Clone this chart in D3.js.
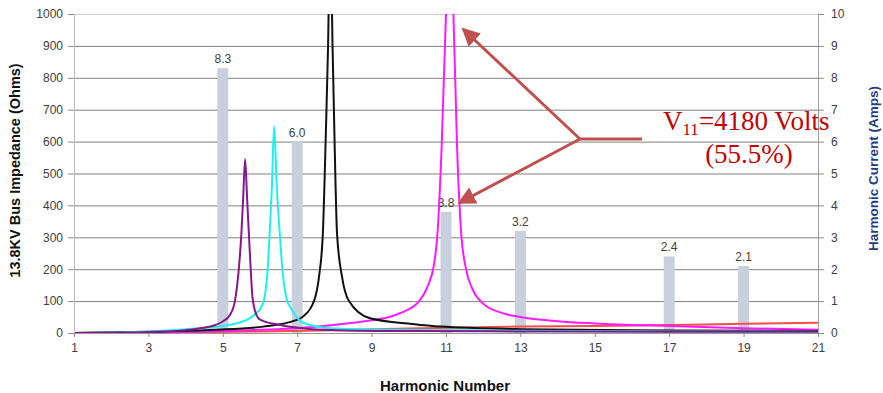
<!DOCTYPE html>
<html>
<head>
<meta charset="utf-8">
<script src="https://cdn.jsdelivr.net/npm/d3@7"></script>
<style>
  body { margin: 0; background: #fff; }
  svg { display: block; font-family: Arial, 'Liberation Sans', sans-serif; }
</style>
</head>
<body>
<div id="graph"></div>
<script>
// harmonic current bars (right axis)
const barHarmonics = [5, 7, 11, 13, 17, 19]
const barCurrents = [8.3, 6.0, 3.8, 3.2, 2.4, 2.1]

// bus impedance scans, [harmonic, ohms]
const purpleScan = [[1, 0], [2, 1], [3, 3], [4, 9], [4.4, 15], [4.8, 25], [5.0, 36], [5.2, 58], [5.33, 103], [5.43, 200], [5.5, 313], [5.55, 430], [5.6, 545], [5.65, 430], [5.7, 313], [5.75, 200], [5.8, 110], [5.91, 55], [6.0, 42], [6.54, 25], [7.4, 12], [8, 9], [10, 6], [13, 5], [17, 4], [21, 4]]
const cyanScan = [[1, 0], [3, 5], [4, 12], [5, 22], [5.64, 41], [5.9, 62], [6.05, 85], [6.12, 110], [6.2, 190], [6.26, 313], [6.32, 460], [6.38, 649], [6.45, 460], [6.53, 313], [6.61, 190], [6.72, 105], [6.83, 78], [7.16, 32], [7.88, 15], [9, 11], [11, 9], [13, 7], [17, 5], [21, 4]]
const blackScan = [[1, 0], [3, 4], [4.75, 10], [6.09, 20], [6.99, 41], [7.16, 52], [7.46, 103], [7.59, 180], [7.69, 313], [7.77, 626], [7.83, 900], [7.89, 1300], [7.95, 900], [8.0, 626], [8.07, 313], [8.2, 180], [8.38, 103], [8.96, 46], [10.1, 28], [10.84, 20], [13, 12], [17, 8], [21, 6]]
const magentaScan = [[1, 0], [3, 2], [5, 6], [6, 10], [7, 15], [7.97, 25], [8.5, 32], [9, 40], [9.5, 51], [9.76, 62], [10.28, 100], [10.52, 150], [10.67, 210], [10.77, 310], [10.88, 574], [11.0, 1000], [11.1, 1500], [11.2, 1000], [11.3, 574], [11.41, 310], [11.53, 205], [11.72, 135], [12.0, 92], [12.5, 63], [13, 50], [14, 37], [15, 30], [17, 22], [19, 15], [21, 10]]
const redScan = [[1, 0], [4, 2], [6, 5], [8, 9], [10, 14], [13, 20], [15, 22], [17, 25], [19, 29], [21, 32]]

const impedanceTicks = [0, 100, 200, 300, 400, 500, 600, 700, 800, 900, 1000]
const currentTicks = [0, 1, 2, 3, 4, 5, 6, 7, 8, 9, 10]
const harmonicTicks = [1, 3, 5, 7, 9, 11, 13, 15, 17, 19, 21]

const scans = [
  { data: redScan, color: '#ff4a4a' },
  { data: magentaScan, color: '#ff1aff' },
  { data: blackScan, color: '#111111' },
  { data: cyanScan, color: '#1ef0f0' },
  { data: purpleScan, color: '#86188a' },
]

const W = 883, H = 393
const margin = { top: 14, right: 65, bottom: 60, left: 74 }
const width = W - margin.left - margin.right
const height = H - margin.top - margin.bottom

const svg = d3.select('#graph').append('svg').attr('width', W).attr('height', H)
const g = svg.append('g').attr('transform', `translate(${margin.left},${margin.top})`)

const x = d3.scaleLinear().domain([1, 21]).range([0, width])
const y = d3.scaleLinear().domain([0, 1000]).range([height, 0])
const yR = d3.scaleLinear().domain([0, 10]).range([height, 0])

// gridlines
g.append('g')
  .selectAll('line')
  .data(impedanceTicks.slice(1))
  .enter()
  .append('line')
  .attr('x1', 0)
  .attr('x2', width)
  .attr('y1', (d) => y(d) + 0.5)
  .attr('y2', (d) => y(d) + 0.5)
  .attr('stroke', (d) => (d === 1000 ? '#cfcfcf' : '#808080'))
  .attr('stroke-width', 1)

// bars
const barW = 11
g.selectAll('.bar')
  .data(barHarmonics)
  .enter()
  .append('rect')
  .attr('x', (d) => x(d) - barW / 2)
  .attr('y', (d, i) => yR(barCurrents[i]))
  .attr('width', barW)
  .attr('height', (d, i) => height - yR(barCurrents[i]))
  .attr('fill', '#c7d0dc')

g.selectAll('.barlabel')
  .data(barHarmonics)
  .enter()
  .append('text')
  .attr('x', (d) => x(d))
  .attr('y', (d, i) => yR(barCurrents[i]) - 5)
  .attr('text-anchor', 'middle')
  .attr('font-size', 12)
  .attr('fill', '#404040')
  .text((d, i) => barCurrents[i].toFixed(1))

// impedance curves, clipped to the plot
svg.append('defs').append('clipPath').attr('id', 'plotClip')
  .append('rect').attr('x', 0).attr('y', 0).attr('width', width).attr('height', height)

const line = d3.line()
  .x((d) => x(d[0]))
  .y((d) => y(d[1]))
  .curve(d3.curveMonotoneX)

g.append('g')
  .attr('clip-path', 'url(#plotClip)')
  .selectAll('path')
  .data(scans)
  .enter()
  .append('path')
  .attr('d', (d) => line(d.data))
  .attr('fill', 'none')
  .attr('stroke', (d) => d.color)
  .attr('stroke-width', 2)

// axes
const leftAxis = g.append('g')
  .call(d3.axisLeft(y).tickValues(impedanceTicks).tickFormat(d3.format('d')).tickSize(6).tickPadding(5))
const rightAxis = g.append('g').attr('transform', `translate(${width},0)`)
  .call(d3.axisRight(yR).tickValues(currentTicks).tickFormat(d3.format('d')).tickSize(6).tickPadding(7))
const bottomAxis = g.append('g').attr('transform', `translate(0,${height})`)
  .call(d3.axisBottom(x).tickValues(harmonicTicks).tickSize(4).tickPadding(6))

leftAxis.select('.domain').attr('stroke', '#bdbdbd')
rightAxis.select('.domain').attr('stroke', '#a0a0a0')
bottomAxis.select('.domain').attr('stroke', '#9a9a9a')
;[leftAxis, rightAxis, bottomAxis].forEach((a) => {
  a.selectAll('.tick line').attr('stroke', '#8a8a8a')
  a.selectAll('text').attr('font-size', 12).attr('fill', '#404040')
    .attr('font-family', 'Arial, Liberation Sans, sans-serif')
})

// axis titles
svg.append('text')
  .attr('transform', `translate(20,${margin.top + height / 2 - 3}) rotate(-90)`)
  .attr('text-anchor', 'middle')
  .attr('font-size', 14.5)
  .attr('font-weight', 'bold')
  .attr('fill', '#111')
  .text('13.8KV Bus Impedance (Ohms)')

svg.append('text')
  .attr('transform', `translate(878,${margin.top + height / 2 - 5}) rotate(-90)`)
  .attr('text-anchor', 'middle')
  .attr('font-size', 13.5)
  .attr('font-weight', 'bold')
  .attr('fill', '#1f3f7a')
  .text('Harmonic Current (Amps)')

svg.append('text')
  .attr('x', 445)
  .attr('y', 391)
  .attr('text-anchor', 'middle')
  .attr('font-size', 15)
  .attr('font-weight', 'bold')
  .attr('fill', '#111')
  .text('Harmonic Number')

// annotation
const arrowColor = '#c0504d'
svg.append('defs').append('marker')
  .attr('id', 'head')
  .attr('viewBox', '0 0 10 10')
  .attr('refX', 9).attr('refY', 5)
  .attr('markerWidth', 6).attr('markerHeight', 6)
  .attr('markerUnits', 'strokeWidth')
  .attr('orient', 'auto')
  .append('path').attr('d', 'M0,0 L10,5 L0,10 z').attr('fill', arrowColor)

const hub = [580, 139]
const arrowTips = [[463, 29], [459, 203]]
arrowTips.forEach((t) => {
  svg.append('line')
    .attr('x1', hub[0]).attr('y1', hub[1])
    .attr('x2', t[0]).attr('y2', t[1])
    .attr('stroke', arrowColor)
    .attr('stroke-width', 3)
    .attr('marker-end', 'url(#head)')
})
svg.append('line')
  .attr('x1', hub[0]).attr('y1', hub[1])
  .attr('x2', 642).attr('y2', hub[1])
  .attr('stroke', arrowColor)
  .attr('stroke-width', 3)

const note = svg.append('text')
  .attr('x', 663)
  .attr('y', 130)
  .attr('font-family', "'Liberation Serif', 'Times New Roman', serif")
  .attr('font-size', 27)
  .attr('fill', '#c00000')
note.append('tspan').text('V')
note.append('tspan').attr('font-size', 17).attr('dy', 5).text('11')
note.append('tspan').attr('dy', -5).text('=4180 Volts')

svg.append('text')
  .attr('x', 749)
  .attr('y', 163)
  .attr('text-anchor', 'middle')
  .attr('font-family', "'Liberation Serif', 'Times New Roman', serif")
  .attr('font-size', 27)
  .attr('fill', '#c00000')
  .text('(55.5%)')
</script>
</body>
</html>
